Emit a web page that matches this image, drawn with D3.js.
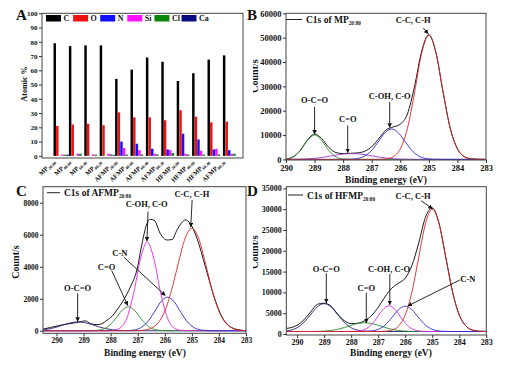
<!DOCTYPE html>
<html><head><meta charset="utf-8">
<script src="https://cdn.jsdelivr.net/npm/d3@7"></script>
<style>
body{margin:0;background:#fff}
svg{display:block}
text{font-family:"Liberation Serif","Times New Roman",serif;font-weight:bold;fill:#111}
</style>
</head><body>
<svg id="c" width="506" height="367"></svg>
<script>
// ---------- Panel A data ----------
const groupNames = ["MP","MP","MP","MP","AFMP","AFMP","AFMP","AFMP","HFMP","HFMP","HFMP","AFMP"];
const groupSubs = ["20:80","40:60","60:40","80:20","20:80","40:60","60:40","80:20","20:80","40:60","60:40","80:20"];
const elements = ["C","O","N","Si","Cl","Ca"];
const pctC  = [79, 77, 77.5, 77.5, 54, 60.5, 69, 66, 52.5, 58, 67.5, 70.5];
const pctO  = [21, 22, 22.5, 21.5, 30.5, 27, 27, 25, 32, 27.5, 23.5, 24];
const pctN  = [0, 0, 0, 0, 10, 8.5, 5, 4.5, 15.5, 11.5, 4.5, 4];
const pctSi = [1, 1.5, 1, 1.5, 5.5, 4, 1.5, 4, 1.5, 3.5, 5, 1.5];
const pctCl = [0.8, 1.5, 0.8, 1, 1, 1, 1, 2, 1, 1, 1, 1.5];
const pctCa = [0.8, 0, 0, 0.5, 0, 0, 0, 0, 0, 0, 0, 0];
const atomicTicks = [0,10,20,30,40,50,60,70,80,90,100];
const energyTicks = [290,289,288,287,286,285,284,283];

// ---------- Panel B data (C1s of MP 20:80) ----------
const mpEnvelope = [[290,180],[289.75,1035],[289.5,3690],[289.25,7970],[289,10435],[288.75,8560],[288.5,4870],[288.25,2800],[288,2370],[287.75,2490],[287.5,2680],[287.25,3300],[287,5185],[286.75,8560],[286.5,12070],[286.25,13300],[286,14480],[285.75,18680],[285.5,30070],[285.25,44520],[285,51190],[284.75,43730],[284.5,27500],[284.25,12700],[284,4340],[283.75,1070],[283.5,200],[283.25,30],[283,0]];
const mpCC  = [[290,0],[287,0],[286.75,30],[286.5,200],[286.25,1070],[286,4340],[285.75,12700],[285.5,27500],[285.25,43700],[285,51000],[284.75,43700],[284.5,27500],[284.25,12700],[284,4340],[283.75,1070],[283.5,200],[283.25,30],[283,0]];
const mpCOH = [[290,0],[288.3,0],[288.05,8],[287.8,50],[287.55,260],[287.3,1060],[287.05,3110],[286.8,6740],[286.55,10710],[286.3,12500],[286.05,10710],[285.8,6740],[285.55,3110],[285.3,1060],[285.05,260],[284.8,50],[284.55,8],[284.3,0],[283,0]];
const mpCdO = [[290,10],[289.95,14],[289.7,41],[289.45,106],[289.2,240],[288.95,487],[288.7,864],[288.45,1350],[288.2,1860],[287.95,2250],[287.7,2400],[287.45,2250],[287.2,1860],[286.95,1350],[286.7,864],[286.45,487],[286.2,240],[285.95,106],[285.7,41],[285.45,14],[285.2,4],[284.9,0],[283,0]];
const mpOCO = [[290,170],[289.75,1000],[289.5,3600],[289.25,7750],[289,10000],[288.75,7750],[288.5,3600],[288.25,1000],[288,170],[287.75,17],[287.5,0],[283,0]];

// ---------- Panel C data (C1s of AFMP 20:80) ----------
const afEnvelope = [[290.5,100],[290.23,200],[289.92,320],[289.61,420],[289.37,480],[289.12,560],[288.94,620],[288.75,450],[288.5,380],[288.32,440],[288.14,650],[287.95,900],[287.77,1300],[287.52,1920],[287.27,2750],[287.03,3800],[286.84,5460],[286.66,6700],[286.54,6960],[286.39,6900],[286.17,6080],[285.92,5670],[285.73,5700],[285.55,6290],[285.24,6920],[285.06,6700],[284.81,5770],[284.5,4000],[284.2,2230],[283.89,870],[283.58,250],[283.21,40],[283,0]];
const afCC  = [[290.5,0],[287.25,0],[287,8],[286.75,40],[286.5,156],[286.25,484],[286,1220],[285.75,2530],[285.5,4230],[285.25,5770],[285,6400],[284.75,5770],[284.5,4230],[284.25,2530],[284,1220],[283.75,484],[283.5,156],[283.25,40],[283,8]];
const afCOH = [[290.5,0],[288.4,0],[288.15,2],[287.9,25],[287.65,174],[287.4,794],[287.15,2340],[286.9,4470],[286.65,5550],[286.4,4470],[286.15,2340],[285.9,794],[285.65,174],[285.4,25],[285.15,2],[284.9,0],[283,0]];
const afCN  = [[290.5,0],[287.65,0],[287.4,8],[287.15,44],[286.9,179],[286.65,523],[286.4,1132],[286.15,1800],[285.9,2100],[285.65,1800],[285.4,1132],[285.15,523],[284.9,179],[284.65,44],[284.4,8],[284.15,0],[283,0]];
const afCdO = [[290.5,0],[289.1,0],[288.85,1],[288.6,11],[288.35,66],[288.1,258],[287.85,687],[287.6,1235],[287.35,1500],[287.1,1235],[286.85,687],[286.6,258],[286.35,66],[286.1,11],[285.85,1],[285.6,0],[283,0]];
const afOCO = [[290.5,52],[290.45,63],[290.2,137],[289.95,252],[289.7,389],[289.45,504],[289.2,550],[288.95,504],[288.7,389],[288.45,252],[288.2,137],[287.95,63],[287.7,24],[287.45,8],[287.2,0],[283,0]];

// ---------- Panel D data (C1s of HFMP 20:80) ----------
const hfEnvelope = [[290.5,1274],[290.25,1495],[290,2105],[289.75,3382],[289.5,5280],[289.25,7140],[289,7400],[288.75,6700],[288.5,4800],[288.25,3200],[288,2500],[287.75,2600],[287.5,3200],[287.25,4400],[287,6400],[286.75,8900],[286.5,11000],[286.25,12200],[286,13400],[285.75,16500],[285.5,21881],[285.25,28067],[285,30300],[284.75,26658],[284.5,18474],[284.25,10160],[284,4570],[283.75,1890],[283.5,920],[283.25,665],[283,613]];
const hfCC  = [[290.5,600],[287,600],[286.75,665],[286.5,920],[286.25,1890],[286,4570],[285.75,10160],[285.5,18450],[285.25,26530],[285,30000],[284.75,26530],[284.5,18450],[284.25,10160],[284,4570],[283.75,1890],[283.5,920],[283.25,665],[283,620]];
const hfCOH = [[290.5,600],[288.35,600],[288.1,606],[287.85,647],[287.6,870],[287.35,1670],[287.1,3440],[286.85,5700],[286.6,6800],[286.35,5700],[286.1,3440],[285.85,1670],[285.6,870],[285.35,647],[285.1,606],[284.85,600],[283,600]];
const hfCN  = [[290.5,600],[287.75,600],[287.5,624],[287.25,728],[287,1120],[286.75,2120],[286.5,3890],[286.25,5830],[286,6700],[285.75,5830],[285.5,3890],[285.25,2120],[285,1120],[284.75,728],[284.5,624],[284.25,600],[283,600]];
const hfCdO = [[290.5,600],[289.75,600],[289.5,608],[289.25,629],[289,692],[288.75,839],[288.5,1123],[288.25,1562],[288,2085],[287.75,2526],[287.5,2700],[287.25,2526],[287,2085],[286.75,1562],[286.5,1123],[286.25,839],[286,692],[285.75,629],[285.5,608],[285.25,600],[283,600]];
const hfOCO = [[290.5,674],[290.25,895],[290,1505],[289.75,2780],[289.5,4670],[289.25,6510],[289,7300],[288.75,6510],[288.5,4670],[288.25,2780],[288,1505],[287.75,895],[287.5,674],[287.25,615],[287,600],[283,600]];

// ---------- drawing ----------
const SERIF = '"Liberation Serif","Times New Roman",serif';
const SANS = '"Liberation Sans",Arial,sans-serif';
const svg = d3.select("#c");
const defs = svg.append("defs");
defs.append("marker").attr("id","ah").attr("viewBox","0 0 8 8").attr("refX",7.5).attr("refY",4)
  .attr("markerWidth",4.5).attr("markerHeight",4.5).attr("markerUnits","userSpaceOnUse").attr("orient","auto")
  .append("path").attr("d","M0,0L8,4L0,8Z").attr("fill","#111");

function styleAxis(g, fs){
  g.attr("font-family",SERIF).attr("font-size",fs).attr("font-weight","bold");
  g.select(".domain").remove();
  g.selectAll(".tick line").attr("stroke","#333");
  g.selectAll(".tick text").attr("fill","#111");
}

// ---- Panel A ----
(function(){
  const colors = ["#000000","#ee1111","#1010ff","#ff10ff","#0a870a","#0a0a80"];
  const series = [pctC,pctO,pctN,pctSi,pctCl,pctCa];
  const xA = d3.scaleBand().domain(d3.range(groupNames.length)).range([53.5, 238.3]);
  const yA = d3.scaleLinear().domain([-1.5,100]).range([158,13.3]);
  const bw = xA.bandwidth()/6;
  const g = svg.append("g");
  series.forEach((vals,k)=>{
    g.selectAll(null).data(vals).enter().append("rect")
      .attr("x",(d,i)=>xA(i)+k*bw).attr("width",bw-0.1)
      .attr("y",d=>yA(d)).attr("height",d=>Math.max(0,yA(0)-yA(d)))
      .attr("fill",colors[k]);
  });
  g.append("rect").attr("x",42).attr("y",13.3).attr("width",201).attr("height",144.7)
    .attr("fill","none").attr("stroke","#444").attr("stroke-width",1);
  const ay = g.append("g").attr("transform","translate(42,0)")
    .call(d3.axisLeft(yA).tickValues(atomicTicks).tickSize(3).tickPadding(1.5).tickFormat(d3.format("d")));
  styleAxis(ay,7);
  g.append("text").attr("transform","translate(27,84) rotate(-90)").attr("text-anchor","middle")
    .attr("font-size",8).text("Atomic %");
  // legend
  elements.forEach((e,k)=>{
    const lx = 46 + k*27.1;
    g.append("rect").attr("x",lx).attr("y",15).attr("width",15).attr("height",6.5).attr("fill",colors[k]);
    g.append("text").attr("x",lx+17.5).attr("y",21.3).attr("font-size",8).text(e);
  });
  // x labels
  g.selectAll(null).data(groupNames).enter().append("text")
    .attr("transform",(d,i)=>`translate(${xA(i)+2},162) rotate(-45)`)
    .attr("text-anchor","end").attr("font-size",6.5)
    .each(function(d,i){
      const t = d3.select(this);
      t.append("tspan").text(d);
      t.append("tspan").attr("font-size",4.2).attr("dy",1.6).text(groupSubs[i]);
    });
  svg.append("text").attr("x",16).attr("y",20).attr("font-family",SANS).attr("font-size",15).text("A");
})();

// ---- Spectrum panels ----
function spectrum(p){
  const g = svg.append("g");
  const x = d3.scaleLinear().domain(p.xd).range(p.xr);
  const y = d3.scaleLinear().domain(p.yd).range(p.yr);
  const [x0,x1] = p.xr, [yb,yt] = p.yr;
  defs.append("clipPath").attr("id","cl"+p.key).append("rect")
    .attr("x",x0).attr("y",yt).attr("width",x1-x0).attr("height",yb-yt);
  const line = d3.line().x(d=>x(d[0])).y(d=>y(d[1])).curve(d3.curveMonotoneX);
  const cg = g.append("g").attr("clip-path",`url(#cl${p.key})`);
  cg.append("path").datum(p.envelope).attr("d",line).attr("fill","none")
    .attr("stroke","#1a1a1a").attr("stroke-width",1);
  p.comps.forEach(c=>{
    cg.append("path").datum(c.pts).attr("d",line).attr("fill","none")
      .attr("stroke",c.color).attr("stroke-width",0.9);
  });
  g.append("rect").attr("x",x0).attr("y",yt).attr("width",x1-x0).attr("height",yb-yt)
    .attr("fill","none").attr("stroke","#444").attr("stroke-width",1);
  const ay = g.append("g").attr("transform",`translate(${x0},0)`)
    .call(d3.axisLeft(y).tickValues(p.yticks).tickSize(3).tickPadding(1.5).tickFormat(d3.format("d")));
  styleAxis(ay,p.fs);
  const ax = g.append("g").attr("transform",`translate(0,${yb})`)
    .call(d3.axisBottom(x).tickValues(energyTicks).tickSize(3).tickPadding(1.5).tickFormat(d3.format("d")));
  styleAxis(ax,p.fs);
  // titles
  g.append("text").attr("x",p.xt[0]).attr("y",p.xt[1]).attr("text-anchor","middle").attr("font-size",9.5)
    .text("Binding energy (eV)");
  const yg = p.yclip ? g.append("g").attr("clip-path","url(#ycl"+p.key+")") : g;
  if (p.yclip) defs.append("clipPath").attr("id","ycl"+p.key).append("rect")
    .attr("x",253).attr("y",0).attr("width",60).attr("height",367);
  yg.append("text").attr("transform",`translate(${p.yt[0]},${p.yt[1]}) rotate(-90)`)
    .attr("text-anchor","middle").attr("font-size",10).text("Count/s");
  // legend
  g.append("line").attr("x1",p.leg[0]).attr("x2",p.leg[1]).attr("y1",p.leg[2]).attr("y2",p.leg[2])
    .attr("stroke","#222").attr("stroke-width",1);
  const lt = g.append("text").attr("x",p.leg[1]+4).attr("y",p.leg[2]+3.6).attr("font-size",9.5);
  lt.append("tspan").text("C1s of " + p.sample);
  lt.append("tspan").attr("font-size",5.2).attr("dy",2).text(p.sub);
  // annotations
  p.notes.forEach(n=>{
    g.append("text").attr("x",x(n.t[0])).attr("y",y(n.t[1])).attr("text-anchor","middle")
      .attr("font-size",8.5).text(n.label);
    g.append("line").attr("x1",x(n.a[0])).attr("y1",y(n.a[1])).attr("x2",x(n.b[0])).attr("y2",y(n.b[1]))
      .attr("stroke","#111").attr("stroke-width",0.9).attr("marker-end","url(#ah)");
  });
  svg.append("text").attr("x",p.letter[0]).attr("y",p.letter[1]).attr("font-family",SANS)
    .attr("font-size",15).text(p.letter[2]);
}

spectrum({
  key:"B", xd:[290,283], xr:[286,486], yd:[-250,60000], yr:[160,13.3], fs:8.5,
  yticks:[0,10000,20000,30000,40000,50000,60000],
  envelope: mpEnvelope,
  comps:[{pts:mpOCO,color:"#2a8c2a"},{pts:mpCdO,color:"#9a3ad6"},{pts:mpCOH,color:"#2a2ad0"},{pts:mpCC,color:"#e02424"}],
  xt:[386,182.5], yt:[257.5,76], yclip:true,
  leg:[286,302,19.5], sample:"MP", sub:"20:80",
  notes:[
    {label:"C-C, C-H", t:[285.55,56000], a:[285.2,54000], b:[285.02,51600]},
    {label:"C-OH, C-O", t:[286.37,24800], a:[286.37,23600], b:[286.37,13100]},
    {label:"C=O", t:[287.84,15350], a:[287.84,13900], b:[287.84,2700]},
    {label:"O-C=O", t:[289.0,23160], a:[289.0,21600], b:[289.0,10300]}
  ],
  letter:[247,20,"B"]
});

spectrum({
  key:"C", xd:[290.5,283], xr:[43,246], yd:[-160,9000], yr:[333.3,186.7], fs:7.5,
  yticks:[0,2000,4000,6000,8000],
  envelope: afEnvelope,
  comps:[{pts:afOCO,color:"#23237e"},{pts:afCdO,color:"#2a8c2a"},{pts:afCOH,color:"#e626e6"},{pts:afCN,color:"#2a2ad0"},{pts:afCC,color:"#e02424"}],
  xt:[145,356], yt:[18.5,262], yclip:false,
  leg:[47,60,192.7], sample:"AFMP", sub:"20:80",
  notes:[
    {label:"C-C, C-H", t:[285.0,8356], a:[284.99,8170], b:[285.04,6480]},
    {label:"C-OH, C-O", t:[286.67,7712], a:[286.62,7440], b:[286.66,5600]},
    {label:"C-N", t:[287.66,4670], a:[287.51,4590], b:[285.98,2200]},
    {label:"C=O", t:[288.15,3826], a:[287.96,3751], b:[287.37,1580]},
    {label:"O-C=O", t:[289.22,2452], a:[289.22,2339], b:[289.22,580]}
  ],
  letter:[16,196,"C"]
});

spectrum({
  key:"D", xd:[290.4,283], xr:[286.3,486.3], yd:[-240,35400], yr:[335,186.7], fs:8,
  yticks:[0,5000,10000,15000,20000,25000,30000,35000],
  envelope: hfEnvelope,
  comps:[{pts:hfOCO,color:"#23237e"},{pts:hfCdO,color:"#2a8c2a"},{pts:hfCOH,color:"#e626e6"},{pts:hfCN,color:"#2a2ad0"},{pts:hfCC,color:"#e02424"}],
  xt:[391,356], yt:[257.5,252], yclip:true,
  leg:[288,303,195], sample:"HFMP", sub:"20:80",
  notes:[
    {label:"C-C, C-H", t:[285.71,32440], a:[285.41,32030], b:[284.99,30100]},
    {label:"C-OH, C-O", t:[286.6,15020], a:[286.57,14420], b:[286.57,7000]},
    {label:"C=O", t:[287.44,10450], a:[287.44,9920], b:[287.44,2650]},
    {label:"O-C=O", t:[288.92,15020], a:[288.92,14590], b:[288.92,7450]},
    {label:"C-N", t:[283.68,12610], a:[283.98,12980], b:[285.9,6750]}
  ],
  letter:[247,196,"D"]
});
</script>
</body></html>
